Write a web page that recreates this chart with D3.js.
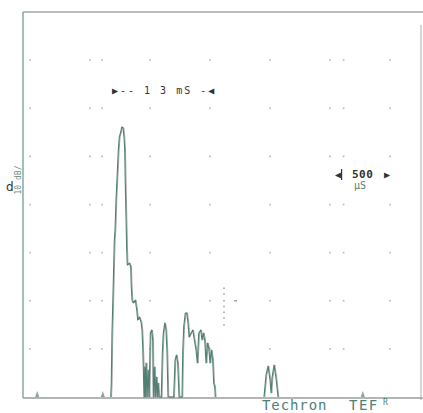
<!DOCTYPE html>
<html>
<head>
<meta charset="utf-8">
<script src="https://cdn.jsdelivr.net/npm/d3@7"></script>
<style>
  html, body { margin: 0; padding: 0; background: #fff; overflow: hidden; }
  svg { display: block; }
</style>
</head>
<body>
<svg id="chart" width="423" height="413"></svg>
<script>
// Energy–time curve, time in ms, level in dB above the floor (null = no signal above floor)
const timeMs = [
  1.009, 1.016, 1.025, 1.041, 1.054, 1.063, 1.075, 1.091, 1.104, 1.116,
  1.134, 1.146, 1.163, 1.175, 1.184, 1.191, 1.200, 1.209, 1.216, 1.241,
  1.259, 1.266, 1.275, 1.291, 1.316, 1.334, 1.346, 1.366, 1.388, 1.400,
  1.409, 1.416, 1.425, 1.434, 1.441, 1.450, 1.463, 1.475, 1.488, 1.504,
  1.521, 1.534, 1.541, 1.554, 1.566, 1.579, 1.591, 1.600, 1.613, 1.641,
  1.654, 1.666, 1.684, 1.700, 1.713, 1.725, 1.796, 1.813, 1.829, 1.846,
  1.863, 1.900, 1.909, 1.921, 1.941, 1.959, 1.975, 1.988, 2.013, 2.034,
  2.054, 2.075, 2.091, 2.109, 2.134, 2.150, 2.166, 2.184, 2.200, 2.216,
  2.234, 2.250, 2.266, 2.284, 2.296, 2.309, 2.316, 2.600, 2.925, 2.950,
  2.975, 3.000, 3.013, 3.025, 3.050, 3.075, 3.100
];
const levelDb = [
  0.00, 1.45, 6.65, 11.84, 16.31, 17.35, 20.47, 23.27, 25.66, 27.01,
  27.53, 28.05, 27.95, 27.01, 25.66, 22.23, 18.70, 15.27, 13.71, 13.92,
  13.51, 11.43, 10.08, 9.77, 10.08, 9.04, 8.00, 8.31, 7.79, 6.96,
  5.19, 3.12, 0.00, 3.12, 0.00, 3.53, 0.00, 2.81, 0.00, 6.65,
  6.96, 5.92, 0.00, 3.12, 0.00, 2.08, 0.00, 1.45, 0.00, 0.00,
  4.57, 6.65, 7.69, 6.96, 4.57, 0.00, 0.00, 3.84, 4.36, 3.53,
  0.00, 0.00, 4.57, 7.27, 8.73, 8.73, 7.69, 6.23, 6.65, 6.96,
  5.92, 4.88, 3.53, 6.65, 6.96, 5.92, 6.65, 5.92, 3.53, 5.61,
  5.09, 3.53, 4.88, 3.84, 1.45, 1.04, 0.00, null, 0.00, 2.29,
  3.22, 1.77, 0.42, 1.97, 3.32, 1.97, 0.00
];

// Graticule dot positions
const gridTimes = [0, 0.75, 0.9, 1.5, 2.25, 3.0, 3.75, 3.92, 4.5];
const gridLevels = [5, 10, 15, 20, 25, 30, 35];

// Small time markers sitting on the floor line
const markerTimes = [0.09, 0.91, 4.16];

// Dotted cursor column
const cursorTime = 2.425;
const cursorLevels = [11.3, 10.7, 10.0, 9.4, 8.8, 8.2, 7.5];

// Annotations
const windowLabel = "\u25B6-- 1 3 mS -\u25C0";
const windowStartMs = 1.025;
const spanValue = "500";
const spanUnit = "\u03BCS";
const brandName = "Techron";
const brandMark = "TEF";

const svg = d3.select("#chart");
const x = d3.scaleLinear().domain([0, 4.5]).range([30, 390]);
const y = d3.scaleLinear().domain([0, 40]).range([397, 12]);

const tLeft = -0.0875, tRight = 4.8875;

// Frame
svg.append("line").attr("x1", x(tLeft)).attr("x2", 423).attr("y1", y(40)).attr("y2", y(40))
  .attr("stroke", "#a3a8a6").attr("stroke-width", 1.6);
svg.append("line").attr("x1", x(tLeft)).attr("x2", x(tLeft)).attr("y1", y(40)).attr("y2", y(0) + 1)
  .attr("stroke", "#86aaa1").attr("stroke-width", 1.5);
svg.append("line").attr("x1", x(tRight)).attr("x2", x(tRight)).attr("y1", 25).attr("y2", y(0) + 3)
  .attr("stroke", "#b9bdbb").attr("stroke-width", 1.2);
svg.append("line").attr("x1", x(tLeft)).attr("x2", 423).attr("y1", y(0) + 1).attr("y2", y(0) + 1)
  .attr("stroke", "#9a9e9c").attr("stroke-width", 1.6);

// Graticule dots
const dots = [];
gridLevels.forEach(l => gridTimes.forEach(t => dots.push({ t, l })));
svg.append("g").selectAll("rect").data(dots).join("rect")
  .attr("x", d => x(d.t) - 0.8).attr("y", d => y(d.l) - 0.8)
  .attr("width", 1.6).attr("height", 1.6).attr("fill", "#b4b8b6");

// Cursor column
svg.append("g").selectAll("rect").data(cursorLevels).join("rect")
  .attr("x", x(cursorTime) - 0.8).attr("y", d => y(d) - 0.8)
  .attr("width", 1.6).attr("height", 1.6).attr("fill", "#a7aca9");
svg.append("rect").attr("x", x(cursorTime) + 10).attr("y", y(10.0) - 0.8)
  .attr("width", 3).attr("height", 1.6).attr("fill", "#a7aca9");

// Floor markers
svg.append("g").selectAll("path").data(markerTimes).join("path")
  .attr("d", t => `M${x(t) - 2},${y(0)} L${x(t)},${y(0) - 6} L${x(t) + 2},${y(0)} Z`)
  .attr("fill", "#8fa39d");

// Trace
const pts = timeMs.map((t, i) => ({ t, db: levelDb[i] }));
const line = d3.line().defined(d => d.db !== null).x(d => x(d.t)).y(d => y(d.db));
svg.append("path").datum(pts).attr("d", line)
  .attr("transform", "translate(0.8,0)")
  .attr("fill", "none").attr("stroke", "#7a7d7c").attr("stroke-width", 1).attr("opacity", 0.7);
svg.append("path").datum(pts).attr("d", line)
  .attr("fill", "none").attr("stroke", "#4f8072").attr("stroke-width", 1.1)
  .attr("stroke-linejoin", "round");

// Window annotation
svg.append("text").attr("x", x(windowStartMs)).attr("y", 94)
  .attr("font-family", "DejaVu Sans Mono").attr("font-size", 10)
  .attr("letter-spacing", 2).attr("fill", "#333").text(windowLabel);

// Span annotation
const spanG = svg.append("g").attr("font-family", "DejaVu Sans Mono").attr("fill", "#2e3532");
spanG.append("text").attr("x", 335).attr("y", 178).attr("font-size", 10).text("\u25C0");
spanG.append("rect").attr("x", 341).attr("y", 169).attr("width", 1.2).attr("height", 11).attr("fill", "#2e3532");
spanG.append("text").attr("x", 352).attr("y", 178).attr("font-size", 11).attr("font-weight", "bold")
  .attr("letter-spacing", 0.5).text(spanValue);
spanG.append("text").attr("x", 384).attr("y", 178).attr("font-size", 10).text("\u25B6");
svg.append("text").attr("x", 354).attr("y", 189)
  .attr("font-family", "DejaVu Sans Mono").attr("font-size", 10).attr("fill", "#4f8072").text(spanUnit);

// Level axis label
svg.append("text").attr("x", 6).attr("y", 191)
  .attr("font-family", "DejaVu Sans").attr("font-size", 12).attr("fill", "#333").text("d");
svg.append("text").attr("transform", "translate(21,180) rotate(-90)")
  .attr("text-anchor", "middle").attr("font-family", "DejaVu Sans Mono").attr("font-size", 8)
  .attr("fill", "#6f8a83").text("10 dB/");

// Brand
const brandG = svg.append("g").attr("font-family", "DejaVu Sans Mono").attr("fill", "#4f8072");
brandG.append("text").attr("x", 262).attr("y", 410).attr("font-size", 14)
  .attr("letter-spacing", 0.9).text(brandName);
brandG.append("text").attr("x", 349).attr("y", 410).attr("font-size", 14)
  .attr("letter-spacing", 1.5).text(brandMark);
brandG.append("text").attr("x", 383).attr("y", 405).attr("font-size", 8).text("R");
</script>
</body>
</html>
